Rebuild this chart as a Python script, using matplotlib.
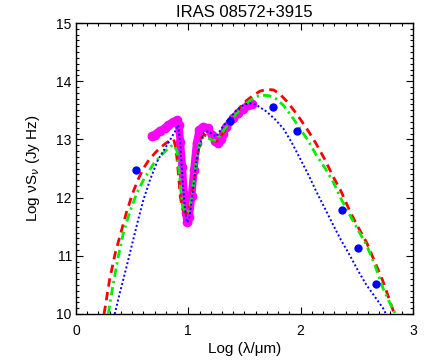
import matplotlib
matplotlib.use("Agg")
import matplotlib.pyplot as plt
from matplotlib.ticker import MultipleLocator

plt.rcParams['font.family'] = ['Liberation Sans', 'DejaVu Sans']

title = "IRAS 08572+3915"

# photometry (blue filled circles)
phot_x = [0.534, 1.37, 1.75, 1.972, 2.373, 2.515, 2.675]
phot_y = [12.47, 13.32, 13.55, 13.15, 11.79, 11.14, 10.51]

# IRS spectrum (magenta)
spec_x = [0.673, 0.70, 0.747, 0.792, 0.821, 0.866, 0.90, 0.915, 0.93, 0.946, 0.961,
          0.979, 0.99, 1.008, 1.029, 1.05, 1.074, 1.097, 1.133, 1.177, 1.207, 1.237,
          1.266, 1.29, 1.31, 1.34, 1.40, 1.444, 1.488, 1.533, 1.563]
spec_y = [13.06, 13.08, 13.15, 13.19, 13.25, 13.30, 13.33, 13.25, 12.95, 12.53, 12.07,
          11.73, 11.58, 11.67, 12.02, 12.47, 12.93, 13.16, 13.22, 13.19, 13.08, 12.98,
          12.93, 13.00, 13.10, 13.22, 13.36, 13.45, 13.53, 13.59, 13.61]

# model 1 (red dashed)
red_x = [0.25, 0.30, 0.35, 0.40, 0.45, 0.50, 0.55, 0.60, 0.65, 0.72, 0.79, 0.85, 0.87,
         0.89, 0.91, 0.93, 0.95, 0.98, 1.00, 1.02, 1.05, 1.08, 1.11, 1.14, 1.18, 1.22,
         1.26, 1.30, 1.34, 1.40, 1.46, 1.52, 1.58, 1.64, 1.70, 1.76, 1.82, 1.88, 1.94,
         2.00, 2.07, 2.14, 2.22, 2.29, 2.36, 2.44, 2.51, 2.59, 2.66, 2.73, 2.79, 2.835]
red_y = [10.0, 10.6, 11.05, 11.40, 11.75, 12.05, 12.30, 12.50, 12.65, 12.80, 12.92, 13.0, 13.0,
         12.85, 12.45, 12.0, 11.8, 11.72, 11.75, 11.95, 12.30, 12.72, 13.0, 13.08, 13.05, 12.98,
         12.97, 13.08, 13.2, 13.38, 13.55, 13.67, 13.76, 13.83, 13.86, 13.85, 13.77, 13.65, 13.50,
         13.34, 13.14, 12.92, 12.64, 12.36, 12.11, 11.76, 11.50, 11.22, 10.90, 10.58, 10.25, 10.0]

# model 2 (green dash-dot)
green_x = [0.287, 0.33, 0.376, 0.42, 0.48, 0.54, 0.60, 0.69, 0.78, 0.84, 0.87, 0.90, 0.92,
           0.94, 0.96, 0.99, 1.01, 1.04, 1.07, 1.10, 1.13, 1.17, 1.21, 1.25, 1.31, 1.37,
           1.43, 1.49, 1.55, 1.61, 1.66, 1.72, 1.78, 1.845, 1.92, 1.993, 2.07, 2.14, 2.22,
           2.29, 2.36, 2.438, 2.51, 2.586, 2.66, 2.734, 2.79, 2.845]
green_y = [10.0, 10.5, 10.98, 11.38, 11.76, 12.07, 12.30, 12.58, 12.77, 12.88, 12.90, 12.80, 12.40,
           12.0, 11.80, 11.73, 11.80, 12.15, 12.60, 12.92, 13.03, 13.03, 12.99, 12.98, 13.14, 13.30,
           13.45, 13.57, 13.67, 13.74, 13.76, 13.75, 13.70, 13.59, 13.40, 13.19, 12.97, 12.73, 12.50,
           12.27, 11.98, 11.70, 11.45, 11.19, 10.85, 10.44, 10.21, 10.0]

# model 3 (blue dotted)
blue_x = [0.345, 0.39, 0.45, 0.51, 0.554, 0.60, 0.658, 0.73, 0.81, 0.88, 0.91, 0.93, 0.95,
          0.97, 0.99, 1.01, 1.04, 1.07, 1.10, 1.14, 1.18, 1.22, 1.25, 1.30, 1.34, 1.43, 1.50,
          1.55, 1.60, 1.696, 1.77, 1.845, 1.92, 1.993, 2.07, 2.141, 2.22, 2.29, 2.36, 2.438,
          2.51, 2.586, 2.66, 2.734, 2.76]
blue_y = [10.0, 10.36, 10.81, 11.28, 11.62, 11.96, 12.30, 12.65, 12.90, 13.13, 13.25, 12.90, 12.30,
          11.80, 11.57, 11.65, 12.10, 12.60, 12.90, 13.12, 13.14, 13.08, 13.05, 13.20, 13.30, 13.50, 13.60,
          13.62, 13.60, 13.48, 13.35, 13.19, 12.95, 12.68, 12.39, 12.10, 11.80, 11.53, 11.27, 11.01,
          10.75, 10.50, 10.30, 10.10, 10.0]

fig = plt.figure(figsize=(4.36, 3.63), dpi=100)
ax = fig.add_axes([0.1743, 0.135, 0.7727, 0.8016])

ax.plot(spec_x, spec_y, color='#ff00ff', lw=5.5, solid_capstyle='round',
        solid_joinstyle='round', marker='o', ms=6, mec='#ff00ff', mfc='#ff00ff', zorder=2)
ax.plot(red_x, red_y, color='#ff0000', lw=2.0, ls=(0, (3, 2)), zorder=3)
ax.plot(green_x, green_y, color='#00ee00', lw=2.0, ls=(0, (3, 1.5, 0.8, 1.5)), zorder=3)
ax.plot(blue_x, blue_y, color='#0000ff', lw=1.4, ls=(0, (1, 1.2)), zorder=3)
ax.plot(phot_x, phot_y, 'o', color='#0000ff', ms=6, mec='none', zorder=4)

ax.set_xlim(0, 3)
ax.set_ylim(10, 15)
ax.xaxis.set_major_locator(MultipleLocator(1))
ax.xaxis.set_minor_locator(MultipleLocator(0.1))
ax.yaxis.set_major_locator(MultipleLocator(1))
ax.yaxis.set_minor_locator(MultipleLocator(0.1))
ax.tick_params(which='both', direction='in', top=True, right=True, labelsize=10, width=0.8)
ax.tick_params(which='major', length=5)
ax.tick_params(which='minor', length=2.5)
ax.tick_params(axis='x', pad=7)
ax.tick_params(axis='y', pad=3)
for s in ax.spines.values():
    s.set_linewidth(1.0)

ax.set_title(title, fontsize=12, pad=4)
ax.set_xlabel('Log (λ/μm)', fontsize=11, labelpad=3)
ax.set_ylabel(r'Log νS$_{\nu}$ (Jy Hz)', fontsize=11, labelpad=10)

fig.savefig('out.png', dpi=100)
